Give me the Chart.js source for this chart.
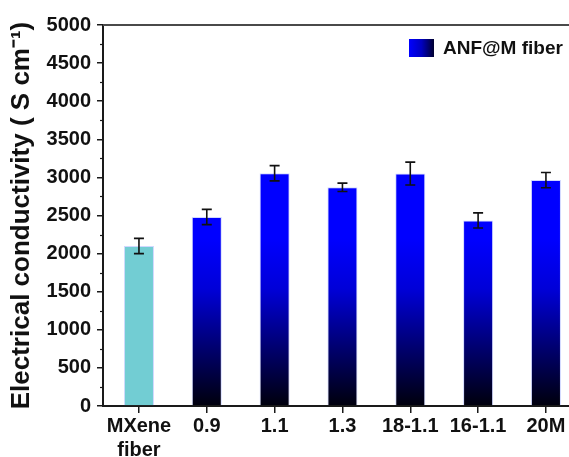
<!DOCTYPE html>
<html>
<head>
<meta charset="utf-8">
<script src="https://cdn.jsdelivr.net/npm/chart.js@4.4.1/dist/chart.umd.min.js"></script>
<style>
  html, body { margin: 0; padding: 0; background: #fff; }
  #wrap { width: 569px; height: 457px; }
</style>
</head>
<body>
<div id="wrap"><canvas id="chart-conductivity" width="569" height="457"></canvas></div>
<script>
const categories = [["MXene", "fiber"], "0.9", "1.1", "1.3", "18-1.1", "16-1.1", "20M"];
const conductivity = [2100, 2480, 3055, 2870, 3050, 2435, 2965];
const conductivityErr = [100, 100, 100, 55, 150, 100, 100];
const seriesLabel = "ANF@M fiber";
const yTitle = "Electrical conductivity ( S cm\u207B\u00B9)";

const AXIS_COLOR = "#1a1a1a";
const FONT = "'Liberation Sans', Arial, sans-serif";

function barFill(ctx) {
  const chart = ctx.chart;
  const area = chart.chartArea;
  if (!area) return "#0000ff";
  if (ctx.dataIndex === 0) return "#72cdd3";
  const y = chart.scales.y;
  const g = chart.ctx.createLinearGradient(0, y.getPixelForValue(0), 0, y.getPixelForValue(2200));
  g.addColorStop(0, "#00000c");
  g.addColorStop(0.35, "#000070");
  g.addColorStop(0.7, "#0000d8");
  g.addColorStop(1, "#0000ff");
  return g;
}

const extrasPlugin = {
  id: "extras",
  afterDatasetsDraw(chart) {
    const { ctx, chartArea, scales } = chart;
    const x = scales.x, y = scales.y;
    ctx.save();
    // error bars
    ctx.strokeStyle = "#111";
    ctx.lineWidth = 1.6;
    conductivity.forEach((v, i) => {
      const px = x.getPixelForValue(i);
      const top = y.getPixelForValue(v + conductivityErr[i]);
      const bot = y.getPixelForValue(v - conductivityErr[i]);
      ctx.beginPath();
      ctx.moveTo(px, top); ctx.lineTo(px, bot);
      ctx.moveTo(px - 5, top); ctx.lineTo(px + 5, top);
      ctx.moveTo(px - 5, bot); ctx.lineTo(px + 5, bot);
      ctx.stroke();
    });
    // minor ticks on y
    ctx.strokeStyle = AXIS_COLOR;
    ctx.lineWidth = 1.2;
    for (let v = 250; v < 5000; v += 500) {
      const py = Math.round(y.getPixelForValue(v)) + 0.5;
      ctx.beginPath();
      ctx.moveTo(chartArea.left - 3, py); ctx.lineTo(chartArea.left, py);
      ctx.stroke();
    }
    // top frame line
    ctx.strokeStyle = "#4a4a4a";
    ctx.lineWidth = 2;
    ctx.beginPath();
    ctx.moveTo(chartArea.left, chartArea.top);
    ctx.lineTo(chart.width, chartArea.top);
    ctx.stroke();
    // legend
    const bx = 409, by = 39, bw = 25, bh = 18;
    const lg = ctx.createLinearGradient(bx, 0, bx + bw, 0);
    lg.addColorStop(0, "#0000ff");
    lg.addColorStop(0.5, "#0000c0");
    lg.addColorStop(1, "#000030");
    ctx.fillStyle = lg;
    ctx.fillRect(bx, by, bw, bh);
    ctx.fillStyle = "#111";
    ctx.font = "bold 19px " + FONT;
    ctx.textBaseline = "middle";
    ctx.textAlign = "left";
    ctx.fillText(chart.data.datasets[0].label, 443, by + bh / 2 + 1);
    ctx.restore();
  }
};

new Chart(document.getElementById("chart-conductivity"), {
  type: "bar",
  data: {
    datasets: [{
      label: seriesLabel,
      data: conductivity.map((v, i) => ({ x: i, y: v })),
      backgroundColor: barFill,
      borderColor: "rgba(190,200,255,0.7)",
      borderWidth: 1,
      barPercentage: 0.443,
      categoryPercentage: 1
    }]
  },
  options: {
    responsive: false,
    animation: false,
    layout: { padding: { top: 25, right: 0, left: 0, bottom: 0 } },
    plugins: { legend: { display: false }, tooltip: { enabled: false } },
    scales: {
      x: {
        type: "linear",
        min: -0.53,
        max: 6.34,
        offset: false,
        afterBuildTicks: (s) => { s.ticks = categories.map((_, i) => ({ value: i })); },
        afterFit: (s) => { s.height = 51; },
        ticks: {
          callback: (v) => categories[v],
          color: "#111",
          font: { family: FONT, size: 20, weight: "bold" },
          padding: 1,
          maxRotation: 0,
          autoSkip: false
        },
        grid: { offset: false, drawOnChartArea: false, tickLength: 7, color: AXIS_COLOR, lineWidth: 1.5 },
        border: { color: AXIS_COLOR, width: 2 }
      },
      y: {
        min: 0,
        max: 5000,
        afterFit: (s) => { s.width = 103; },
        ticks: {
          stepSize: 500,
          callback: (v) => String(v),
          color: "#111",
          font: { family: FONT, size: 20, weight: "bold" },
          padding: 6
        },
        grid: { drawOnChartArea: false, tickLength: 6, color: AXIS_COLOR, lineWidth: 1.5 },
        border: { color: AXIS_COLOR, width: 2 },
        title: {
          display: true,
          text: yTitle,
          color: "#111",
          font: { family: FONT, size: 26, weight: "bold" },
          padding: { top: 6, bottom: 0 }
        }
      }
    }
  },
  plugins: [extrasPlugin]
});
</script>
</body>
</html>
